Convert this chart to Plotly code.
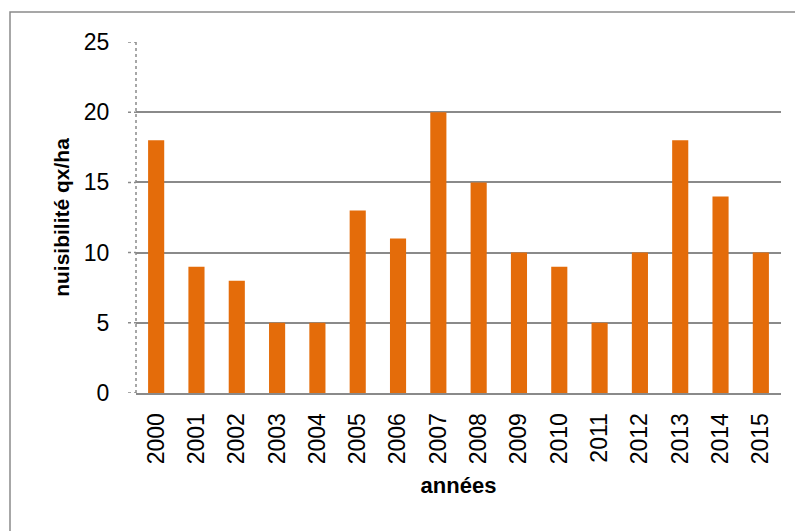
import plotly.graph_objects as go

years = ["2000","2001","2002","2003","2004","2005","2006","2007","2008","2009","2010","2011","2012","2013","2014","2015"]
nuisibilite = [18, 9, 8, 5, 5, 13, 11, 20, 15, 10, 9, 5, 10, 18, 14, 10]
y_ticks = [0, 5, 10, 15, 20, 25]

# page body has an 8px default margin, so the figure is offset by 8px
W, H = 795, 523
L, R, T, B = 128, 22, 34, 138
pw, ph = W - L - R, H - T - B

fig = go.Figure(go.Bar(x=years, y=nuisibilite, marker=dict(color="#E46C0A", line=dict(width=0)),
                       width=0.4))

font = "Liberation Sans, Arial, sans-serif"
gray = "#8a8a8a"
shapes = []
# outer chart border
shapes.append(dict(type="rect", xref="paper", yref="paper",
                   x0=(2 - L) / pw, x1=(W + 5 - L) / pw,
                   y0=-(B + 5) / ph, y1=(ph + T - 4) / ph,
                   line=dict(color=gray, width=1.5), fillcolor="rgba(0,0,0,0)", layer="below"))
# dotted y axis line
shapes.append(dict(type="line", xref="paper", yref="y", x0=0, x1=0, y0=0, y1=25,
                   line=dict(color=gray, width=1.5, dash="dot")))
# dotted tick marks
for t in y_ticks:
    shapes.append(dict(type="line", xref="paper", yref="y", x0=-8 / pw, x1=0, y0=t, y1=t,
                       line=dict(color=gray, width=1.5, dash="dot")))

fig.update_layout(
    width=W, height=H,
    margin=dict(l=L, r=R, t=T, b=B, autoexpand=False),
    paper_bgcolor="white", plot_bgcolor="white",
    showlegend=False,
    shapes=shapes,
    font=dict(family=font, color="#000000"),
    xaxis=dict(
        type="category", tickangle=-90, tickfont=dict(size=23, family=font),
        showgrid=False, showline=True, linecolor=gray, linewidth=2,
        ticks="outside", ticklen=9, tickcolor="rgba(0,0,0,0)",
        title=dict(text="<b>années</b>", font=dict(size=22, family=font), standoff=14),
        range=[-0.5, 15.5], automargin=False,
    ),
    yaxis=dict(
        range=[0, 25], tickvals=y_ticks, tickfont=dict(size=23, family=font),
        showgrid=True, gridcolor=gray, gridwidth=2,
        zeroline=False, showline=False,
        ticks="outside", ticklen=21, tickcolor="rgba(0,0,0,0)",
        title=dict(text="<b>nuisibilité qx/ha</b>", font=dict(size=21, family=font), standoff=8),
        automargin=False,
    ),
)

fig.write_html("out.html")
